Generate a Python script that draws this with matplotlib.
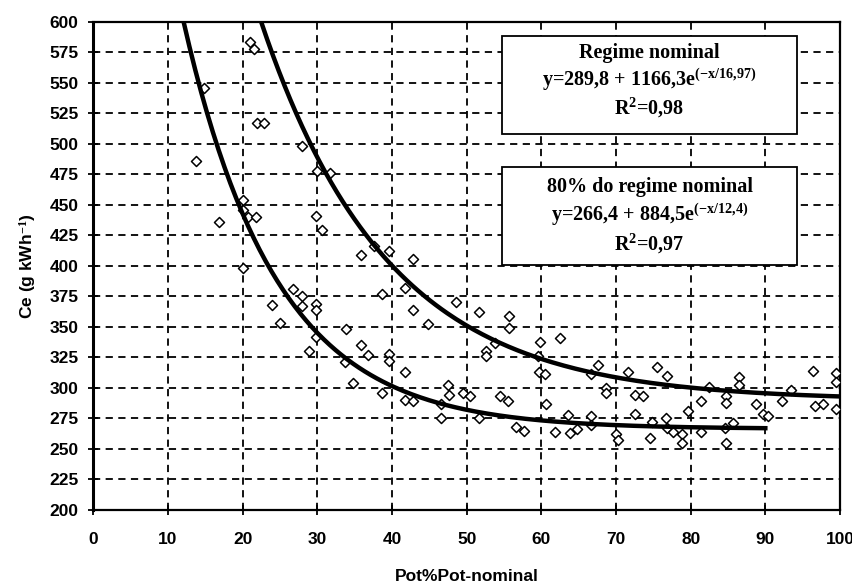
import numpy as np
import matplotlib
matplotlib.use("Agg")
import matplotlib.pyplot as plt
from matplotlib.patches import Rectangle

# scatter data (Pot % of nominal, Ce in g/kWh)
pot = [13.8, 14.8, 16.9, 20.0, 20.1, 20.7, 21.8, 20.0, 21.0, 21.5, 21.9, 22.9,
       23.9, 25.0, 26.8, 27.9, 27.9, 27.9, 28.9, 29.8, 30.6, 29.9, 31.7, 29.8,
       29.8, 29.8, 33.7, 33.8, 34.8, 35.8, 35.8, 36.8, 37.6, 38.7, 38.7, 39.6,
       39.6, 39.6, 41.7, 41.7, 41.7, 42.8, 42.8, 42.8, 44.8, 46.5, 46.5, 47.5,
       47.7, 48.6, 49.5, 50.5, 51.7, 51.7, 52.6, 52.6, 53.8, 54.4, 55.6, 55.7,
       55.7, 56.6, 57.7, 59.8, 59.6, 59.7, 60.5, 60.6, 61.8, 62.5, 63.6, 63.8,
       64.8, 66.7, 67.6, 66.7, 66.7, 68.6, 68.6, 70.0, 70.3, 71.6, 72.5, 73.6,
       72.5, 74.8, 74.6, 75.5, 76.8, 76.7, 76.8, 77.6, 78.8, 78.8, 79.7, 81.4,
       81.4, 82.5, 84.7, 84.7, 84.7, 85.7, 84.6, 86.5, 86.5, 88.7, 89.7, 90.4,
       92.2, 93.5, 96.4, 96.6, 97.7, 99.5, 99.5, 99.5]
ce = [486, 546, 436, 454, 446, 440, 440, 398, 583, 578, 517, 517,
      368, 353, 381, 375, 367, 498, 330, 441, 429, 478, 476, 369,
      364, 342, 321, 348, 304, 409, 335, 327, 416, 377, 296, 412,
      328, 322, 382, 313, 290, 289, 406, 364, 352, 287, 275, 302,
      294, 370, 296, 293, 362, 275, 330, 326, 337, 293, 289, 359,
      349, 268, 265, 338, 326, 313, 311, 287, 264, 341, 278, 263,
      266, 311, 319, 277, 270, 300, 296, 262, 257, 313, 294, 293,
      279, 272, 259, 317, 310, 275, 267, 264, 262, 255, 281, 289,
      264, 301, 293, 288, 255, 271, 267, 309, 302, 287, 279, 277,
      289, 298, 314, 285, 287, 312, 305, 283]

# fitted curves as printed on the chart: y = a + b*exp(-x/c), drawn over [x0, x1]
fit_nominal = [289.8, 1166.3, 16.97]
fit_80 = [266.4, 884.5, 12.4]
range_nominal = [22.5, 100]
range_80 = [12.1, 90]

xticks = list(range(0, 101, 10))
yticks = list(range(200, 601, 25))

plt.rcParams['mathtext.fontset'] = 'custom'
plt.rcParams['mathtext.rm'] = 'Liberation Serif:bold'
plt.rcParams['mathtext.it'] = 'Liberation Serif:bold'
plt.rcParams['mathtext.bf'] = 'Liberation Serif:bold'

fig = plt.figure(figsize=(8.53, 5.86), dpi=100)
ax = fig.add_axes([93.3 / 853, 1 - 510 / 586, (840 - 93.3) / 853, (510 - 21.7) / 586])

ax.set_xlim(0, 100)
ax.set_ylim(200, 600)
ax.set_xticks(xticks)
ax.set_yticks(yticks)
ax.grid(True, color='black', linestyle=(0, (4, 3)), linewidth=1.3)
ax.set_axisbelow(True)

for name, sp in ax.spines.items():
    sp.set_linewidth(1.6)
ax.spines['left'].set_linewidth(2.2)

ax.tick_params(direction='inout', length=7, width=1.3, labelsize=12.5)
ax.tick_params(axis='x', pad=12)
ax.tick_params(axis='y', pad=7)
for lab in ax.get_xticklabels() + ax.get_yticklabels():
    lab.set_fontfamily('Liberation Sans')
    lab.set_fontweight('bold')

ax.scatter(pot, ce, marker='D', s=26, facecolors='white', edgecolors='black',
           linewidths=1.1, zorder=3)

for p, r in [(fit_nominal, range_nominal), (fit_80, range_80)]:
    xs = np.linspace(r[0], r[1], 200)
    ax.plot(xs, p[0] + p[1] * np.exp(-xs / p[2]), color='black', lw=3.2, zorder=4)

ax.set_xlabel('Pot%Pot-nominal', fontsize=12.5, fontweight='bold', family='Liberation Sans', labelpad=16)
ax.set_ylabel('Ce (g kWh$^{-1}$)', fontsize=12.5, fontweight='bold', family='Liberation Sans', labelpad=8)

# annotation boxes
box_font = dict(family='Liberation Serif', fontweight='bold', fontsize=14.5,
                ha='center', va='center', zorder=6)
ax.add_patch(Rectangle((54.8, 508), 39.4, 80.3, facecolor='white', edgecolor='black',
                       lw=1.3, zorder=5))
ax.text(74.5, 574.3, 'Regime nominal', **box_font)
ax.text(74.5, 552.5, 'y=289,8 + 1166,3e$^{(-x/16{,}97)}$', **box_font)
ax.text(74.5, 529, 'R$^{2}$=0,98', **box_font)

ax.add_patch(Rectangle((54.8, 400.7), 39.4, 80.3, facecolor='white', edgecolor='black',
                       lw=1.3, zorder=5))
ax.text(74.5, 465, '80% do regime nominal', **box_font)
ax.text(74.5, 441.5, 'y=266,4 + 884,5e$^{(-x/12{,}4)}$', **box_font)
ax.text(74.5, 417.5, 'R$^{2}$=0,97', **box_font)

fig.savefig('out.png', dpi=100)
